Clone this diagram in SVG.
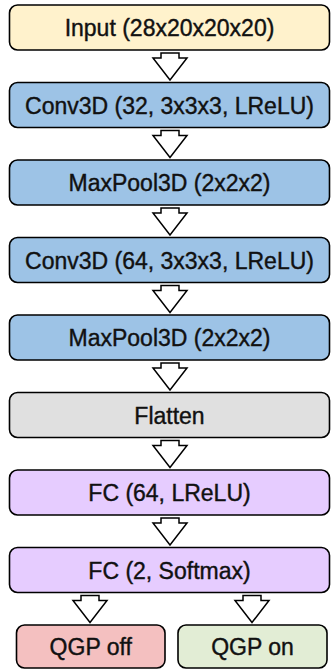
<svg xmlns="http://www.w3.org/2000/svg" width="331" height="669" viewBox="0 0 331 669">
<style>
.box{stroke:#000;stroke-width:1.6}
.t{font-family:"Liberation Sans",Arial,sans-serif;font-size:23px;fill:#111;stroke:#111;stroke-width:0.4;text-anchor:middle}
.arr{fill:#fff;stroke:#000;stroke-width:1.5;stroke-linejoin:miter}
.y{fill:#fff2cc}.b{fill:#9dc3e6}.g{fill:#e0e0e0}.p{fill:#e6ccff}.r{fill:#f4c0c0}.gr{fill:#e2edd5}
</style>
<defs>
<path id="ar" d="M-9,0 H9 V5 H17 L0,27 L-17,5 H-9 Z"/>
</defs>
<g id="input"><rect class="box y" x="9.5" y="5" width="320" height="45" rx="8"/><text class="t" x="169.5" y="36">Input (28x20x20x20)</text></g>
<g id="conv1"><rect class="box b" x="9.5" y="82.5" width="320" height="45" rx="8"/><text class="t" x="169.5" y="113.5">Conv3D (32, 3x3x3, LReLU)</text></g>
<g id="pool1"><rect class="box b" x="9.5" y="160" width="320" height="45" rx="8"/><text class="t" x="169.5" y="191">MaxPool3D (2x2x2)</text></g>
<g id="conv2"><rect class="box b" x="9.5" y="237.5" width="320" height="45" rx="8"/><text class="t" x="169.5" y="268.5">Conv3D (64, 3x3x3, LReLU)</text></g>
<g id="pool2"><rect class="box b" x="9.5" y="315" width="320" height="45" rx="8"/><text class="t" x="169.5" y="346">MaxPool3D (2x2x2)</text></g>
<g id="flatten"><rect class="box g" x="9.5" y="392.5" width="320" height="45" rx="8"/><text class="t" x="169.5" y="423.5">Flatten</text></g>
<g id="fc1"><rect class="box p" x="9.5" y="470" width="320" height="45" rx="8"/><text class="t" x="169.5" y="501">FC (64, LReLU)</text></g>
<g id="fc2"><rect class="box p" x="9.5" y="547.5" width="320" height="45" rx="8"/><text class="t" x="169.5" y="578.5">FC (2, Softmax)</text></g>
<g id="qgpoff"><rect class="box r" x="16.5" y="625" width="148.5" height="43" rx="8"/><text class="t" x="90.75" y="655">QGP off</text></g>
<g id="qgpon"><rect class="box gr" x="178" y="625" width="149" height="43" rx="8"/><text class="t" x="252.5" y="655">QGP on</text></g>
<g id="connectors">
<use href="#ar" class="arr" transform="translate(170,53)"/>
<use href="#ar" class="arr" transform="translate(170,130.5)"/>
<use href="#ar" class="arr" transform="translate(170,208)"/>
<use href="#ar" class="arr" transform="translate(170,285.5)"/>
<use href="#ar" class="arr" transform="translate(170,363)"/>
<use href="#ar" class="arr" transform="translate(170,440.5)"/>
<use href="#ar" class="arr" transform="translate(170,518)"/>
<use href="#ar" class="arr" transform="translate(90,595.5)"/>
<use href="#ar" class="arr" transform="translate(252,595.5)"/>
</g>
</svg>
